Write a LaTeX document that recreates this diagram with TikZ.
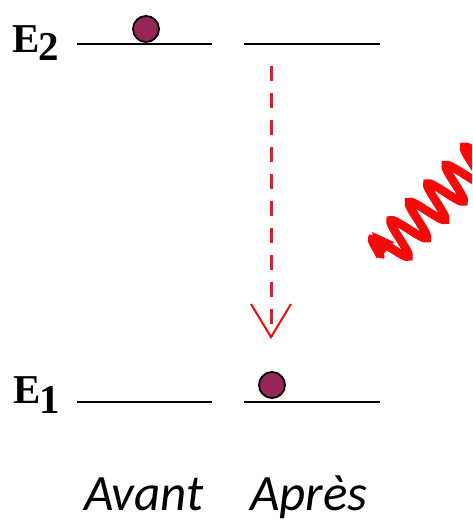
\documentclass[tikz,border=0pt]{standalone}
\usepackage{fontspec}
\newfontfamily\elfont{Liberation Serif}
\newfontfamily\capfont{Carlito}
\usetikzlibrary{arrows.meta,decorations.pathmorphing}
\definecolor{ballc}{RGB}{150,38,88}
\definecolor{dashc}{RGB}{205,35,45}
\definecolor{wavec}{RGB}{245,10,10}
\tikzset{
  level/.style={line width=2.6pt, black},
  ball/.style={circle, draw=black, line width=1.8pt, fill=ballc, minimum size=26pt, inner sep=0pt},
  elabel/.style={inner sep=0pt, anchor=base west, font=\elfont\bfseries\fontsize{41}{41}\selectfont},
  caption/.style={inner sep=0pt, anchor=base west, font=\capfont\itshape\fontsize{51}{51}\selectfont},
  transition/.style={dashc, line width=3pt, dash pattern=on 15pt off 12pt,
     -{Straight Barb[length=33pt,width=40pt,line width=2pt,color=wavec]}},
  photon/.style={wavec, line width=8.5pt, decorate,
     decoration={snake, segment length=26pt, amplitude=19pt}}
}
\begin{document}
\begin{tikzpicture}[x=1pt,y=-1pt]
\useasboundingbox (0,0) rectangle (472,525);
\clip (0,0) rectangle (472,525);
% levels
\coordinate (a2l) at (77,44);  \coordinate (a2r) at (212,44);
\coordinate (b2l) at (244,44); \coordinate (b2r) at (380,44);
\coordinate (a1l) at (77,402); \coordinate (a1r) at (212,402);
\coordinate (b1l) at (244,402);\coordinate (b1r) at (380,402);
\draw[level] (a2l) -- (a2r);
\draw[level] (b2l) -- (b2r);
\draw[level] (a1l) -- (a1r);
\draw[level] (b1l) -- (b1r);
% labels
\node[elabel] (e2) at (12,52) {E};
\node[elabel] (e2s) at (38,60) {2};
\node[elabel] (e1) at (13,403) {E};
\node[elabel] (e1s) at (39,413) {1};
% electrons
\node[ball] (el2) at (146,29) {};
\node[ball] (el1) at (272,385) {};
% transition
\coordinate (ts) at (271,66);
\coordinate (tt) at (271,339);
\draw[transition] (ts) -- (tt);
% photon
\coordinate (ps) at (380,258);
\coordinate (pe) at (500,138);
\draw[photon] (ps) -- (pe);
\fill[wavec] (ps) -- ++(-8,-26) -- ++(22,10) -- cycle;
% captions
\node[caption] (av) at (84,510) {Avant};
\node[caption] (ap) at (250,510) {Après};
\end{tikzpicture}
\end{document}
